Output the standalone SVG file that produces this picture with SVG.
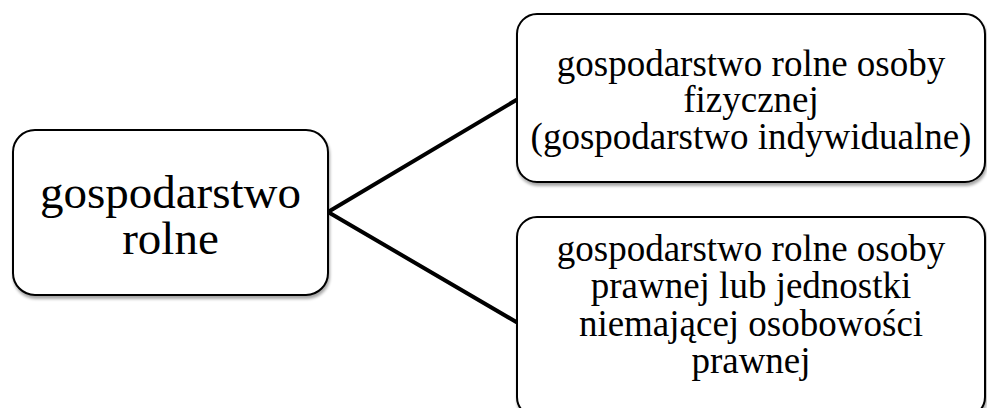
<svg xmlns="http://www.w3.org/2000/svg" width="987" height="408" viewBox="0 0 987 408">
<defs>
<filter id="sh" x="-5%" y="-5%" width="115%" height="115%">
<feGaussianBlur in="SourceAlpha" stdDeviation="1.5"/>
<feOffset dx="1" dy="3"/>
<feComponentTransfer><feFuncA type="linear" slope="0.35"/></feComponentTransfer>
<feMerge><feMergeNode/><feMergeNode in="SourceGraphic"/></feMerge>
</filter>
</defs>
<style>
.box{fill:#fff;stroke:#000;stroke-width:2;filter:url(#sh)}
.t{font-family:"Liberation Serif","Times New Roman",serif;fill:#000;text-anchor:middle}
.c{stroke:#000;stroke-width:4;fill:none;stroke-linecap:round}
</style>
<rect width="987" height="408" fill="#fff"/>
<g id="connectors">
<line class="c" x1="328" y1="212" x2="518" y2="99"/>
<line class="c" x1="328" y1="212" x2="518" y2="323"/>
</g>
<g id="node-root">
<rect class="box" x="13" y="130" width="315" height="165" rx="22"/>
<text class="t" font-size="47" x="170.5" y="208">gospodarstwo</text>
<text class="t" font-size="47" x="170.5" y="254">rolne</text>
</g>
<g id="node-physical">
<rect class="box" x="517" y="14" width="468" height="168" rx="20"/>
<text class="t" font-size="37" x="751" y="76">gospodarstwo rolne osoby</text>
<text class="t" font-size="37" x="751" y="112">fizycznej</text>
<text class="t" font-size="37" x="751" y="149">(gospodarstwo indywidualne)</text>
</g>
<g id="node-legal">
<rect class="box" x="517" y="217" width="468" height="200" rx="20"/>
<text class="t" font-size="37" x="751" y="261">gospodarstwo rolne osoby</text>
<text class="t" font-size="37" x="751" y="298">prawnej lub jednostki</text>
<text class="t" font-size="37" x="751" y="336">niemającej osobowości</text>
<text class="t" font-size="37" x="751" y="373">prawnej</text>
</g>
</svg>
